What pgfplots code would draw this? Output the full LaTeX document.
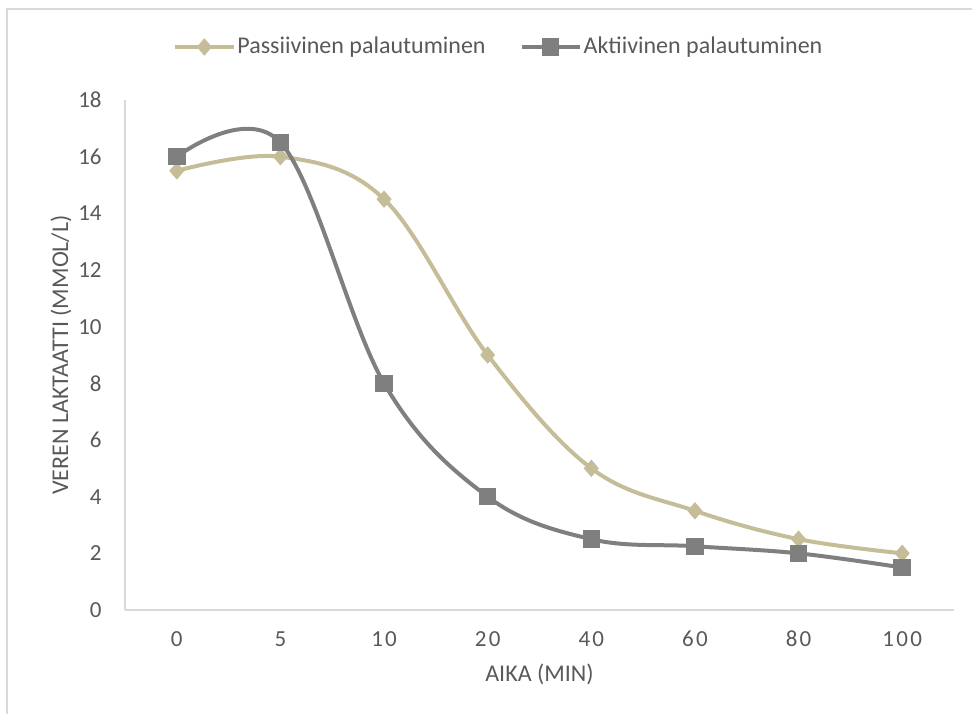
\documentclass[border=0pt]{standalone}
\usepackage{pgfplots}
\pgfplotsset{compat=1.18}
\usepackage{fontspec}
\setmainfont{Carlito}
\newfontfamily\spaced[LetterSpace=10]{Carlito}
\definecolor{passc}{HTML}{C4BD97}
\definecolor{aktc}{HTML}{7F7F7F}
\definecolor{axc}{HTML}{D9D9D9}
\definecolor{txtc}{HTML}{595959}
\pgfplotstableread{
x y
0 15.5
1 16
2 14.5
3 9
4 5
5 3.5
6 2.5
7 2
}\passive
\pgfplotstableread{
x y
0 16
1 16.5
2 8
3 4
4 2.5
5 2.25
6 2
7 1.5
}\aktiv
\begin{document}
\begin{tikzpicture}
\path[use as bounding box] (-62.5pt,-51.5pt) rectangle (423.5pt,305pt);
\draw[axc, line width=0.75pt] (-59pt,-80pt) -- (-59pt,300.5pt) -- (460pt,300.5pt);
\begin{axis}[
  at={(0,0)}, anchor=south west,
  scale only axis, width=414.5pt, height=255pt,
  xmin=-0.5, xmax=7.5, ymin=0, ymax=18,
  xtick=data, xticklabels={0,5,10,20,40,60,80,100},
  ytick={0,2,...,18},
  axis x line*=bottom, axis y line*=left,
  axis line style={axc, line width=0.75pt, -},
  major tick length=0pt,
  tick style={draw=none},
  /pgf/number format/assume math mode=true,
  xticklabel style={font=\fontsize{11.5}{13}\spaced, text=txtc, anchor=center, inner sep=0pt, yshift=-14.5pt},
  yticklabel style={font=\fontsize{11.5}{13}\selectfont, text=txtc, anchor=east, inner sep=0pt, xshift=-11.5pt},
  xlabel={AIKA (MIN)},
  ylabel={VEREN LAKTAATTI (MMOL/L)},
  xlabel style={at={(axis description cs:0.5,-0.127)}, anchor=center, font=\fontsize{12}{14}\selectfont, text=txtc},
  ylabel style={at={(axis description cs:-0.0773,0.5)}, anchor=center, font=\fontsize{12}{14}\selectfont, text=txtc},
  legend columns=2,
  legend style={at={(0.451,1.104)}, anchor=center, draw=none, fill=none,
    font=\fontsize{12}{14}\selectfont, text=txtc,
    /tikz/every even column/.append style={column sep=16pt},
    nodes={inner xsep=1pt}},
  legend image code/.code={\draw[mark repeat=2,mark phase=2,#1] plot coordinates {(0pt,0pt) (14.5pt,0pt) (29pt,0pt)};},
]
\addplot[passc, line width=2pt, smooth, tension=0.6, mark=diamond*, mark size=4pt, mark options={solid, xscale=1.15, fill=passc, draw=passc, line width=0.5pt}] table[x=x,y=y] {\passive};
\addlegendentry{Passiivinen palautuminen}
\addplot[aktc, line width=2pt, smooth, tension=0.6, mark=square*, mark size=4.1pt, mark options={solid, fill=aktc, draw=aktc, line width=0.5pt}] table[x=x,y=y] {\aktiv};
\addlegendentry{Aktiivinen palautuminen}
\end{axis}
\end{tikzpicture}
\end{document}
